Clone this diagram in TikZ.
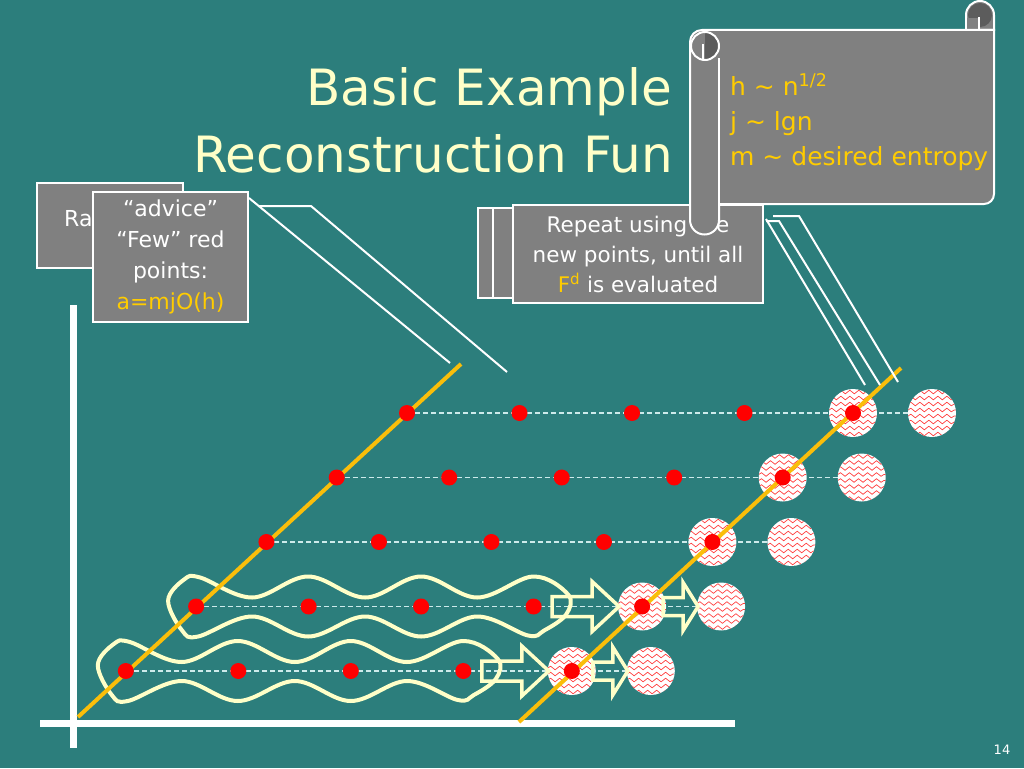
\documentclass[tikz,border=0pt]{standalone}
\usepackage{fontspec}
\setmainfont{DejaVu Sans}
\usepackage{tikz}
\usetikzlibrary{decorations.pathmorphing}
\usepackage{xcolor}
\definecolor{fondvert}{RGB}{44,126,124}
\definecolor{grisboite}{RGB}{128,128,128}
\definecolor{grisfonce}{RGB}{92,92,92}
\definecolor{jaunetexte}{RGB}{255,204,0}
\definecolor{jauneligne}{RGB}{250,190,10}
\definecolor{creme}{RGB}{255,255,200}
\definecolor{pointille}{RGB}{205,235,235}

\begin{document}
\begin{tikzpicture}[x=1pt,y=-1pt,
    titre/.style={text=creme, font=\fontsize{50}{60}\selectfont, inner sep=0pt},
    boite/.style={draw=white, line width=2pt, fill=grisboite, inner sep=0pt},
    txt/.style={text=white, font=\fontsize{22}{31}\selectfont, align=center},
    point/.style={circle, fill=red, minimum size=16pt, inner sep=0pt},
    tache/.style={circle, fill=white, minimum size=48pt, inner sep=0pt,
        path picture={\foreach \k in {-21,-15,...,21}
            \draw[red!75, line width=0.7pt, decorate, decoration={snake, amplitude=1.8pt, segment length=9pt}]
            ([yshift=\k pt]path picture bounding box.west) -- ([yshift=\k pt]path picture bounding box.east);}},
    pointilles/.style={pointille, dash pattern=on 5pt off 3pt, line width=1.2pt},
    axe/.style={white, line width=7pt},
    diag/.style={jauneligne, line width=4pt},
    bulle/.style={creme, line width=4pt},
    fleche/.style={creme, line width=3.5pt, line join=miter},
    rappel/.style={white, line width=2pt},
    parch/.style={fill=grisboite, draw=white, line width=2pt}]
    % fond
    \fill[fondvert] (0,0) rectangle (1024,768);
    \useasboundingbox (0,0) rectangle (1024,768);
    % titre
    \node[titre, anchor=base east] (t1) at (672,105) {Basic Example};
    \node[titre, anchor=base west] (t2) at (193,172) {Reconstruction Fun};
    % axes
    \coordinate (v1) at (73,305);
    \coordinate (v2) at (73,748);
    \coordinate (h1) at (40,723);
    \coordinate (h2) at (735,723);
    \draw[axe] (v1) -- (v2);
    \draw[axe] (h1) -- (h2);
    % lignes pointillees et taches
    \foreach \r in {0,...,4} {
        \pgfmathsetmacro{\yy}{413+64.5*\r}
        \pgfmathsetmacro{\xx}{407-70.3*\r}
        \coordinate (a\r) at (\xx,\yy);
        \coordinate (b\r) at (\xx+525,\yy);
        \draw[pointilles] (a\r) -- (b\r);
        \node[tache] (c\r) at (\xx+446,\yy) {};
        \node[tache] (e\r) at (b\r) {};
    }
    % bulles autour des deux dernieres lignes
    \foreach \r in {3,4} {
        \draw[bulle, shift={(a\r)}] plot[smooth cycle, tension=0.6] coordinates {
            (-28,-6) (-12,-27) (4,-29) (56,-9) (112,-30) (169,-9) (225,-30) (281,-9) (337,-30)
            (372,-12) (370,8) (348,24) (332,29) (281,10) (225,30) (169,10) (112,30) (56,10) (2,30) (-14,24)};
        \draw[fleche, shift={(a\r)}] (356,-10) -- (396,-10) -- (396,-25) -- (423,0) -- (396,25) -- (396,10) -- (356,10) -- cycle;
        \draw[fleche, shift={(a\r)}] (467,-9) -- (487,-9) -- (487,-24) -- (502,0) -- (487,24) -- (487,9) -- (467,9) -- cycle;
    }
    % diagonales
    \coordinate (j1) at (78,717);
    \coordinate (j2) at (461,364);
    \coordinate (k1) at (519,722);
    \coordinate (k2) at (901,368);
    \draw[diag] (j1) -- (j2);
    \draw[diag] (k1) -- (k2);
    % points rouges
    \foreach \r in {0,...,4} {
        \foreach \i in {0,...,3}
            \node[point] (p\r\i) at ([xshift=112.5*\i pt]a\r) {};
        \node[point] (q\r) at (c\r) {};
    }
    % traits des bulles
    \coordinate (r1) at (450,363);
    \coordinate (r2) at (507,372);
    \coordinate (s1) at (865,385);
    \coordinate (s2) at (880,385);
    \coordinate (s3) at (898,382);
    % boites de gauche
    \node[boite, minimum width=146pt, minimum height=85pt] (fond) at (110,225.5) {};
    \node[txt, anchor=base west, inner sep=0pt] (fondtxt) at (64,226) {Ra};
    \node[boite, txt, minimum width=155pt, minimum height=130pt] (avis) at (170.5,257)
        {“advice”\\“Few” red\\points:\\\textcolor{jaunetexte}{a=mjO(h)}};
    \draw[rappel] ([yshift=-7pt]avis.north east) -- (r1);
    \draw[rappel] ([xshift=10pt,yshift=-15pt]avis.north east) -- ++(52,0) -- (r2);
    % boites de droite
    \node[boite, minimum width=250pt, minimum height=90pt] (rep1) at (603,253) {};
    \node[boite, minimum width=250pt, minimum height=90pt] (rep2) at (618,253) {};
    \node[boite, txt, font=\fontsize{21.5}{30}\selectfont, minimum width=250pt, minimum height=98pt] (rep3) at (638,254)
        {Repeat using the\\new points, until all\\\textcolor{jaunetexte}{F\textsuperscript{d}} is evaluated};
    \draw[rappel] ([xshift=2pt,yshift=-15pt]rep3.north east) -- (s1);
    \draw[rappel] ([xshift=2pt,yshift=-17pt]rep3.north east) -- ++(13,0) -- (s2);
    \draw[rappel] ([xshift=9pt,yshift=-12pt]rep3.north east) -- ++(26,0) -- (s3);
    % parchemin
    \filldraw[parch] (966,30) -- (966,15) arc[start angle=180, end angle=360, radius=14] -- (994,30) -- cycle;
    \fill[grisfonce] (980,15) circle (12);
    \fill[grisboite] (967,18) rectangle (979,29);
    \draw[white, line width=1.5pt] (979,17) -- (979,29);
    \filldraw[parch] (690,220) -- (690,42) arc[start angle=180, end angle=270, radius=12] -- (994,30)
        -- (994,194) arc[start angle=0, end angle=90, radius=10] -- (719,204)
        -- (719,220) arc[start angle=0, end angle=180, radius=14.5] -- cycle;
    \draw[white, line width=2pt] (719,58) -- (719,220);
    \fill[grisboite] (705,46) circle (14);
    \fill[grisfonce] (705,32) arc[start angle=270, end angle=450, radius=14] -- cycle;
    \draw[white, line width=1.5pt] (703,44) -- (703,60);
    \draw[white, line width=2pt] (705,46) circle (14);
    \node[text=jaunetexte, font=\fontsize{25}{35}\selectfont, anchor=north west, align=left, inner sep=0pt] (formules) at (730,73)
        {h \textasciitilde{} n\textsuperscript{1/2}\\j \textasciitilde{} lgn\\m \textasciitilde{} desired entropy};
    % numero
    \node[text=white, font=\fontsize{13}{15}\selectfont] (num) at (1002,750) {14};
\end{tikzpicture}
\end{document}
